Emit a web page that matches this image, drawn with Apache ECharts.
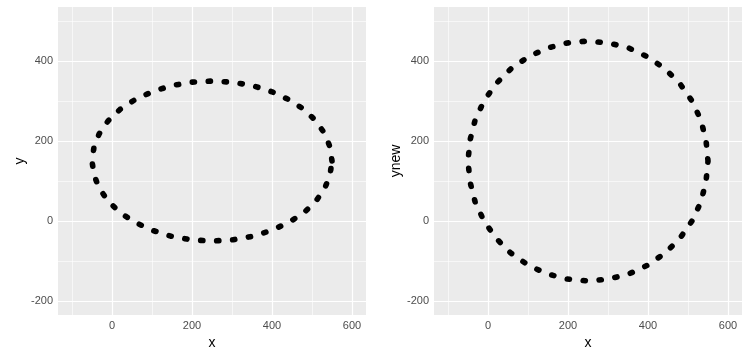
<!DOCTYPE html>
<html>
<head>
<meta charset="utf-8">
<script src="https://cdn.jsdelivr.net/npm/echarts@6/dist/echarts.min.js"></script>
<style>
  html, body { margin: 0; padding: 0; background: #fff; }
  #chart { width: 751px; height: 357px; }
</style>
</head>
<body>
<div id="chart"></div>
<script>
  // points (every 10 degrees round the ring)
  var xs = [550, 545, 532, 510, 480, 443, 400, 353, 302, 250, 198, 147, 100, 57, 20, -10, -32, -45,
            -50, -45, -32, -10, 20, 57, 100, 147, 198, 250, 302, 353, 400, 443, 480, 510, 532, 545, 550];
  var ys = [150, 185, 218, 250, 279, 303, 323, 338, 347, 350, 347, 338, 323, 303, 279, 250, 218, 185,
            150, 115, 82, 50, 21, -3, -23, -38, -47, -50, -47, -38, -23, -3, 21, 50, 82, 115, 150];
  var ynew = [150, 202, 253, 300, 343, 380, 410, 432, 445, 450, 445, 432, 410, 380, 343, 300, 253, 202,
              150, 98, 47, 0, -43, -80, -110, -132, -145, -150, -145, -132, -110, -80, -43, 0, 47, 98, 150];

  var xMajor = [0, 200, 400, 600];
  var xMinor = [-100, 100, 300, 500];
  var yMajor = [-200, 0, 200, 400];
  var yMinor = [-100, 100, 300, 500];

  var font = 'Liberation Sans, Arial, sans-serif';

  function pairs(a, b) {
    return a.map(function (v, i) { return [v, b[i]]; });
  }

  function axis(gi, vals, min, max, name, isY) {
    return {
      type: 'value', gridIndex: gi, min: min, max: max,
      name: name, nameLocation: 'middle', nameGap: isY ? 30 : 20,
      nameTextStyle: { color: '#000', fontSize: 14, fontFamily: font },
      axisLine: { show: false },
      axisTick: { show: true, length: 3, customValues: vals, lineStyle: { color: '#333', width: 1 } },
      axisLabel: { customValues: vals, margin: 5, color: '#4D4D4D', fontSize: 11, fontFamily: font },
      splitLine: { show: false }
    };
  }

  // white panel grid, major and minor, as markLines under the ring
  function gridLines(gi) {
    var d = [];
    xMinor.forEach(function (v) { d.push({ xAxis: v, lineStyle: { width: 0.6 } }); });
    yMinor.forEach(function (v) { d.push({ yAxis: v, lineStyle: { width: 0.6 } }); });
    xMajor.forEach(function (v) { d.push({ xAxis: v, lineStyle: { width: 1.2 } }); });
    yMajor.forEach(function (v) { d.push({ yAxis: v, lineStyle: { width: 1.2 } }); });
    return {
      type: 'scatter', xAxisIndex: gi, yAxisIndex: gi, data: [], z: 1, silent: true,
      markLine: {
        silent: true, symbol: 'none', label: { show: false },
        lineStyle: { color: '#fff', type: 'solid' },
        data: d
      }
    };
  }

  function ring(gi, yv) {
    return {
      type: 'line', xAxisIndex: gi, yAxisIndex: gi, data: pairs(xs, yv),
      symbol: 'none', z: 5, silent: true,
      lineStyle: { color: '#000', width: 5.6, type: [2.2, 13.8], cap: 'round', join: 'round' }
    };
  }

  var chart = echarts.init(document.getElementById('chart'));
  chart.setOption({
    animation: false,
    backgroundColor: '#fff',
    grid: [
      { left: 58, top: 7, width: 308, height: 308, show: true, backgroundColor: '#EBEBEB', borderWidth: 0 },
      { left: 434, top: 7, width: 308, height: 308, show: true, backgroundColor: '#EBEBEB', borderWidth: 0 }
    ],
    xAxis: [
      axis(0, xMajor, -135, 635, 'x', false),
      axis(1, xMajor, -135, 635, 'x', false)
    ],
    yAxis: [
      axis(0, yMajor, -235, 535, 'y', true),
      axis(1, yMajor, -235, 535, 'ynew', true)
    ],
    series: [
      gridLines(0),
      gridLines(1),
      ring(0, ys),
      ring(1, ynew)
    ]
  });
</script>
</body>
</html>
